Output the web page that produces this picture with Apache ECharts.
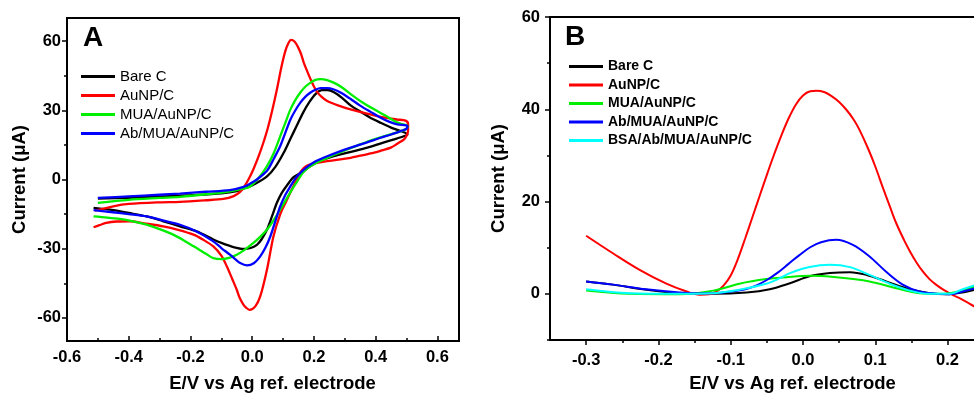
<!DOCTYPE html>
<html>
<head>
<meta charset="utf-8">
<script src="https://cdn.jsdelivr.net/npm/echarts@6/dist/echarts.min.js"></script>
<style>
html,body{margin:0;padding:0;background:#fff;}
#chart{width:974px;height:394px;}
</style>
</head>
<body>
<div id="chart"></div>
<script>
// ---------- Panel A: cyclic voltammograms (E in V, I in µA), path order ----------
const seriesNamesA = ['Bare C', 'AuNP/C', 'MUA/AuNP/C', 'Ab/MUA/AuNP/C'];
const cvBare = [[-0.5,-8.3],[-0.4,-7.9],[-0.3,-7.4],[-0.2,-6.8],[-0.1,-6.0],[-0.05,-5.0],[-0.02,-3.6],[0.01,-1.8],[0.048,1.4],[0.075,5.5],[0.102,11.6],[0.125,18],[0.145,23.5],[0.165,29],[0.185,33.5],[0.205,37],[0.225,38.7],[0.245,38.8],[0.265,37.8],[0.29,35.5],[0.32,32],[0.35,29.5],[0.38,27],[0.416,24.6],[0.45,22.5],[0.481,21],[0.503,19.6],
  [0.5,19.2],[0.46,17.4],[0.42,15.8],[0.373,13.8],[0.32,12],[0.264,10.1],[0.22,8],[0.189,5.8],[0.16,3],[0.134,1],[0.113,-2.5],[0.095,-6],[0.08,-10.1],[0.064,-16],[0.048,-21.7],[0.03,-26],[0.015,-28.3],[-0.005,-29.7],[-0.028,-30.1],[-0.061,-29.3],[-0.1,-27.5],[-0.126,-26],[-0.18,-22.5],[-0.234,-20.3],[-0.29,-18],[-0.342,-16],[-0.4,-14.5],[-0.45,-13.3],[-0.514,-12.3]];
const cvAuNP = [[-0.51,-13.5],[-0.45,-11.6],[-0.4,-10.6],[-0.3,-9.9],[-0.234,-9.7],[-0.15,-9.0],[-0.093,-8.4],[-0.06,-7.2],[-0.04,-5.5],[-0.025,-3],[-0.01,0.5],[0.005,4.8],[0.02,9.8],[0.035,15.5],[0.05,22],[0.065,30],[0.08,39],[0.095,49],[0.108,56],[0.118,59.3],[0.126,60.5],[0.137,59.8],[0.148,57.5],[0.158,54.5],[0.167,50.7],[0.178,47],[0.189,43.5],[0.2,40.3],[0.21,38],[0.225,35.8],[0.243,34],[0.28,32],[0.319,30.4],[0.36,29],[0.405,27.5],[0.44,26.6],[0.47,26],[0.497,25.5],[0.505,24],
  [0.505,21],[0.5,19],[0.492,17.4],[0.47,15.5],[0.449,13.8],[0.42,12.6],[0.395,11.6],[0.35,10.3],[0.319,9.4],[0.28,8.6],[0.243,8],[0.2,7],[0.18,6.2],[0.167,5],[0.155,3],[0.145,0.5],[0.135,-2.5],[0.124,-5.5],[0.11,-9.5],[0.091,-15],[0.069,-24.6],[0.048,-39],[0.026,-50.7],[0.01,-55],[-0.009,-56.5],[-0.02,-55.5],[-0.028,-54.3],[-0.04,-51.5],[-0.05,-47.8],[-0.065,-43],[-0.082,-37.7],[-0.1,-33],[-0.126,-29],[-0.16,-26],[-0.19,-23.9],[-0.24,-21.8],[-0.288,-20.3],[-0.35,-19],[-0.397,-18.1],[-0.44,-18.2],[-0.473,-18.8],[-0.495,-19.8],[-0.514,-20.7]];
const cvMUA = [[-0.5,-10.1],[-0.4,-8.8],[-0.3,-8],[-0.234,-7.5],[-0.15,-6.4],[-0.072,-5.1],[-0.03,-4],[-0.007,-3],[0.02,0.5],[0.048,5.8],[0.07,11.5],[0.091,18.8],[0.108,24.8],[0.124,30.4],[0.14,34.5],[0.156,37.7],[0.172,40.2],[0.189,42],[0.205,43.2],[0.221,43.5],[0.24,43.2],[0.264,42],[0.29,40],[0.319,37],[0.355,33.6],[0.395,30.4],[0.43,27.8],[0.46,25.4],[0.485,24],[0.503,23.2],
  [0.5,22],[0.481,21],[0.44,19.2],[0.395,17.4],[0.35,15.2],[0.308,13],[0.27,11],[0.232,8.7],[0.21,7.4],[0.189,5.8],[0.17,3.8],[0.156,1.4],[0.145,-1],[0.134,-3.3],[0.115,-7.5],[0.091,-13],[0.07,-17.5],[0.048,-21.7],[0.025,-25],[0.004,-27.5],[-0.025,-30.5],[-0.05,-32.6],[-0.075,-34],[-0.099,-34.5],[-0.126,-34.1],[-0.15,-32.2],[-0.18,-29.7],[-0.22,-26.5],[-0.256,-23.9],[-0.3,-21.5],[-0.342,-19.6],[-0.39,-18],[-0.429,-17.1],[-0.47,-16.5],[-0.514,-16]];
const cvAb = [[-0.5,-8],[-0.4,-7.3],[-0.3,-6.6],[-0.234,-6.1],[-0.15,-5.3],[-0.072,-4.6],[-0.028,-3.2],[-0.007,-1.8],[0.015,0],[0.048,3.8],[0.07,9],[0.091,14.5],[0.108,20.5],[0.124,26],[0.14,30],[0.156,33.3],[0.172,35.8],[0.189,37.7],[0.205,38.9],[0.221,39.6],[0.243,39.6],[0.265,39],[0.286,37.7],[0.32,34.8],[0.351,31.9],[0.385,29.2],[0.416,26.8],[0.445,25],[0.47,23.9],[0.503,23.2],
  [0.5,22],[0.481,21],[0.45,19.5],[0.416,18.1],[0.37,16],[0.319,13.8],[0.28,12],[0.243,10.1],[0.22,8.8],[0.2,7.5],[0.178,5.5],[0.156,2.9],[0.14,0.5],[0.124,-2.9],[0.108,-6.5],[0.091,-11.6],[0.075,-18],[0.059,-24.6],[0.043,-29.5],[0.026,-33.3],[0.005,-36.3],[-0.017,-37.2],[-0.039,-36.2],[-0.055,-34.5],[-0.072,-32.6],[-0.1,-29.7],[-0.126,-26.8],[-0.18,-22.5],[-0.234,-19.6],[-0.29,-17.7],[-0.342,-16],[-0.4,-15],[-0.451,-14.2],[-0.514,-13.3]];

// ---------- Panel B: differential pulse voltammograms ----------
const seriesNamesB = ['Bare C', 'AuNP/C', 'MUA/AuNP/C', 'Ab/MUA/AuNP/C', 'BSA/Ab/MUA/AuNP/C'];
const dpvBare = [[-0.3,2.7],[-0.263,2],[-0.217,0.9],[-0.171,0.15],[-0.124,0],[-0.078,0.3],[-0.046,1],[-0.018,2.3],[0.009,3.8],[0.037,4.5],[0.065,4.7],[0.088,4.1],[0.115,2.7],[0.148,1],[0.175,0.15],[0.198,-0.1],[0.221,0.3],[0.24,1]];
const dpvAuNP = [[-0.3,12.6],[-0.263,8.8],[-0.226,5.2],[-0.189,2.2],[-0.161,0.5],[-0.143,-0.2],[-0.13,-0.1],[-0.12,0.5],[-0.11,1.8],[-0.1,4],[-0.09,7.6],[-0.08,12],[-0.07,16.6],[-0.06,21.2],[-0.05,25.8],[-0.04,30.2],[-0.03,34.3],[-0.02,38],[-0.01,41],[0,43],[0.01,43.9],[0.018,44],[0.03,43.7],[0.04,42.8],[0.05,41.6],[0.06,39.9],[0.07,37.8],[0.078,35.6],[0.09,31.5],[0.1,27.6],[0.111,22.8],[0.12,19],[0.129,15.3],[0.14,11.6],[0.148,9.2],[0.157,6.8],[0.166,4.8],[0.175,3.2],[0.184,2],[0.194,0.9],[0.203,0.1],[0.212,-0.6],[0.221,-1.3],[0.24,-3]];
const dpvMUA = [[-0.3,0.7],[-0.24,0],[-0.171,-0.1],[-0.124,0.7],[-0.088,2.2],[-0.051,3.2],[-0.023,3.6],[0.009,3.9],[0.046,3.6],[0.092,2.7],[0.129,1.2],[0.161,0.15],[0.194,0],[0.221,0.7],[0.24,1.8]];
const dpvAb = [[-0.3,2.7],[-0.263,2.0],[-0.217,1.0],[-0.171,0.3],[-0.14,0.1],[-0.11,0.3],[-0.095,0.6],[-0.08,1.0],[-0.065,1.8],[-0.05,3.0],[-0.035,4.6],[-0.02,6.5],[-0.005,8.4],[0.01,10.1],[0.025,11.2],[0.046,11.7],[0.069,10.6],[0.092,8.1],[0.115,4.8],[0.138,2],[0.161,0.5],[0.184,0.05],[0.203,-0.1],[0.221,0.5],[0.24,1.3]];
const dpvBSA = [[-0.3,1],[-0.24,0.15],[-0.171,0],[-0.124,0.15],[-0.088,0.9],[-0.051,2.2],[-0.032,3.4],[-0.018,4.5],[0.009,5.8],[0.037,6.3],[0.065,5.8],[0.092,4.1],[0.12,2.2],[0.148,0.7],[0.175,0],[0.203,0],[0.221,1],[0.24,2]];

// ---------- tick values ----------
const xTicksA = [-0.6,-0.4,-0.2,0,0.2,0.4,0.6];
const xMinorA = [-0.5,-0.3,-0.1,0.1,0.3,0.5];
const yTicksA = [-60,-30,0,30,60];
const yMinorA = [-45,-15,15,45];
const xTicksB = [-0.3,-0.2,-0.1,0,0.1,0.2,0.3];
const xMinorB = [-0.25,-0.15,-0.05,0.05,0.15,0.25];
const yTicksB = [0,20,40,60];
const yMinorB = [-10,10,30,50];

const coloursA = ['#000000','#ff0000','#00ee00','#0000ff'];
const coloursB = ['#000000','#ff0000','#00ee00','#0000ff','#00ffff'];

const FONT = '"Liberation Sans", Arial, Helvetica, sans-serif';
const chart = echarts.init(document.getElementById('chart'), null, {renderer:'canvas'});

function mainAxis(gridIndex, min, max, ticks, inside, labelMargin, fmt, name, nameGap, namePad){
  return {
    gridIndex, type:'value', min, max,
    name, nameLocation:'middle', nameGap,
    nameTextStyle:{fontFamily:FONT, fontWeight:'bold', fontSize:18.5, color:'#000', padding:namePad},
    axisLine:{show:true, onZero:false, lineStyle:{color:'#000', width:2}},
    axisTick:{show:true, inside, length:5, customValues:ticks, lineStyle:{color:'#000', width:1.5}},
    axisLabel:{show:true, customValues:ticks, margin:labelMargin, formatter:fmt,
      fontFamily:FONT, fontWeight:'bold', fontSize:16.5, color:'#000'},
    splitLine:{show:false}, minorTick:{show:false}
  };
}
function minorAxis(gridIndex, min, max, ticks, inside, position){
  return {
    gridIndex, type:'value', min, max, position, offset:0,
    axisLine:{show:false, onZero:false},
    axisTick:{show:true, inside, length:3, customValues:ticks, lineStyle:{color:'#000', width:1.5}},
    axisLabel:{show:false},
    splitLine:{show:false}
  };
}
const f1 = v => v.toFixed(1);
const f0 = v => String(Math.round(v));

const dataA = [cvBare, cvAuNP, cvMUA, cvAb];
const dataB = [dpvBare, dpvAuNP, dpvMUA, dpvAb, dpvBSA];

const series = [];
seriesNamesA.forEach((n,i)=>series.push({
  name:n, type:'line', xAxisIndex:0, yAxisIndex:0, data:dataA[i],
  showSymbol:false, smooth:0.3, lineStyle:{width:2.3, color:coloursA[i]}, itemStyle:{color:coloursA[i]},
  z:2+i
}));
seriesNamesB.forEach((n,i)=>series.push({
  name:n, type:'line', xAxisIndex:1, yAxisIndex:1, data:dataB[i],
  showSymbol:false, smooth:0.35, lineStyle:{width:2, color:coloursB[i]}, itemStyle:{color:coloursB[i]},
  z:2+i
}));

const option = {
  animation:false,
  backgroundColor:'#fff',
  grid:[
    {left:67, top:18, width:392, height:323, show:true, borderColor:'#000', borderWidth:2, outerBoundsMode:'none', containLabel:false},
    {left:550, top:17, width:506, height:323, show:true, borderColor:'#000', borderWidth:2, outerBoundsMode:'none', containLabel:false}
  ],
  xAxis:[
    mainAxis(0, -0.6, 0.67, xTicksA, true, 8, f1, 'E/V vs Ag ref. electrode', 33, [0,0,0,19]),
    mainAxis(1, -0.35, 0.35, xTicksB, false, 12, f1, 'E/V vs Ag ref. electrode', 34, [0,21,0,0]),
    minorAxis(0, -0.6, 0.67, xMinorA, true, 'bottom'),
    minorAxis(1, -0.35, 0.35, xMinorB, false, 'bottom')
  ],
  yAxis:[
    mainAxis(0, -70, 70, yTicksA, false, 6, f0, 'Current (μA)', 38, 0),
    mainAxis(1, -10, 60, yTicksB, false, 10, f0, 'Current (μA)', 42, 0),
    minorAxis(0, -70, 70, yMinorA, false, 'left'),
    minorAxis(1, -10, 60, yMinorB, false, 'left')
  ],
  legend:[
    {orient:'vertical', left:81, top:69, padding:0, itemWidth:34, itemHeight:3, itemGap:4, icon:'rect',
     textStyle:{fontFamily:FONT, fontSize:15, lineHeight:15, color:'#000'}, data:seriesNamesA, selectedMode:false},
    {orient:'vertical', left:569, top:59.5, padding:0, itemWidth:34, itemHeight:3, itemGap:4.5, icon:'rect',
     textStyle:{fontFamily:FONT, fontSize:14, lineHeight:14, fontWeight:'bold', color:'#000'}, data:seriesNamesB, selectedMode:false}
  ],
  graphic:[
    {type:'text', left:83, top:24, style:{text:'A', font:'bold 28px '+FONT, fill:'#000'}},
    {type:'text', left:565, top:23, style:{text:'B', font:'bold 28px '+FONT, fill:'#000'}}
  ],
  series
};
chart.setOption(option);
</script>
</body>
</html>
